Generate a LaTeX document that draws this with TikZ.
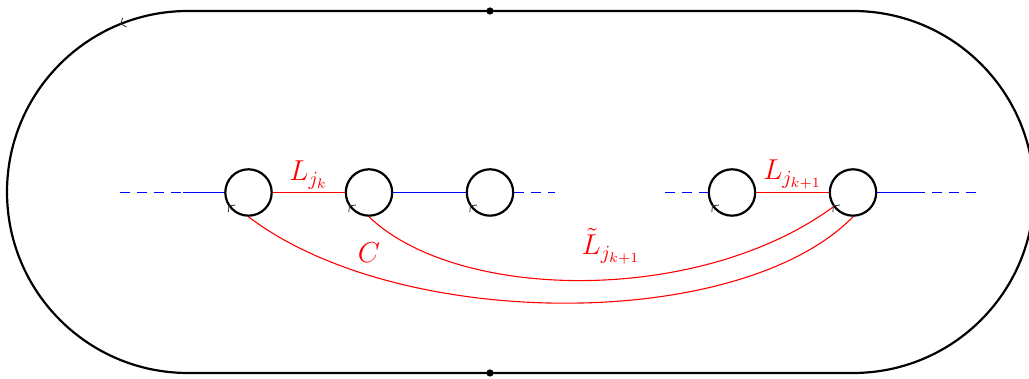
\documentclass[tikz,border=0pt]{standalone}
\usetikzlibrary{arrows.meta,decorations.markings}
\definecolor{lineblue}{RGB}{0,0,255}
\definecolor{linered}{RGB}{255,0,0}
\begin{document}
\begin{tikzpicture}[x=0.5pt,y=0.5pt,
  bd/.style={line width=1.1pt},
  tick/.style={decorate,decoration={markings,mark=at position #1 with {\arrow[line width=0.4pt,black!80]{Straight Barb[length=2pt,width=5pt]}}}},
  hole/.style={circle,draw,line width=1.1pt,minimum size=23.2pt,inner sep=0pt,
     postaction={decorate,decoration={markings,mark=at position 0.625 with {\arrow[line width=0.4pt,black!80]{Straight Barb[reversed,length=2pt,width=5pt]}}}}},
  dot/.style={circle,fill,inner sep=0pt,minimum size=3.6pt},
  blueline/.style={color=lineblue,line width=0.55pt},
  bluedash/.style={color=lineblue,line width=0.55pt,dash pattern=on 5pt off 3.5pt},
  redline/.style={color=linered,line width=0.55pt},
  lab/.style={text=linered,font=\fontsize{14}{17}\selectfont,anchor=base}]
\useasboundingbox (0,0) rectangle (1029,379);
% outer boundary
\node[dot] (top) at (490,368) {};
\node[dot] (bot) at (490,6) {};
\draw[bd,postaction={tick=0.1505}] (top.center) -- (188,368) arc[start angle=90,end angle=270,radius=181]
   -- (853,6) arc[start angle=-90,end angle=90,radius=181] -- cycle;
% holes
\node[hole] (c1) at (248.5,186.5) {};
\node[hole] (c2) at (369,186.5) {};
\node[hole] (c3) at (490,186.5) {};
\node[hole] (c4) at (732,186.5) {};
\node[hole] (c5) at (853,186.5) {};
% blue lines
\coordinate (l0) at (120,186.5);
\coordinate (l1) at (183,186.5);
\coordinate (m1) at (555,186.5);
\coordinate (m2) at (665,186.5);
\coordinate (r1) at (915,186.5);
\coordinate (r2) at (980,186.5);
\draw[bluedash] (l0) -- (l1);
\draw[blueline] (l1) -- (c1.west);
\draw[blueline] (c2.east) -- (c3.west);
\draw[bluedash] (c3.east) -- (m1);
\draw[bluedash] (m2) -- (c4.west);
\draw[blueline] (c5.east) -- (r1);
\draw[bluedash] (r1) -- (r2);
% red lines
\draw[redline] (c1.east) -- (c2.west);
\draw[redline] (c4.east) -- (c5.west);
\draw[redline] (c2.south) .. controls (458,77) and (700,74) .. (c5.216);
\draw[redline] (c1.south) .. controls (400,47) and (740,47) .. (c5.south);
% labels
\node[lab] (lk) at (308.5,198) {$L_{j_k}$};
\node[lab] (lk1) at (792.5,199) {$L_{j_{k+1}}$};
\node[lab] (cc) at (369,116) {$C$};
\node[lab] (tl) at (611,124) {$\tilde{L}_{j_{k+1}}$};
\end{tikzpicture}
\end{document}
